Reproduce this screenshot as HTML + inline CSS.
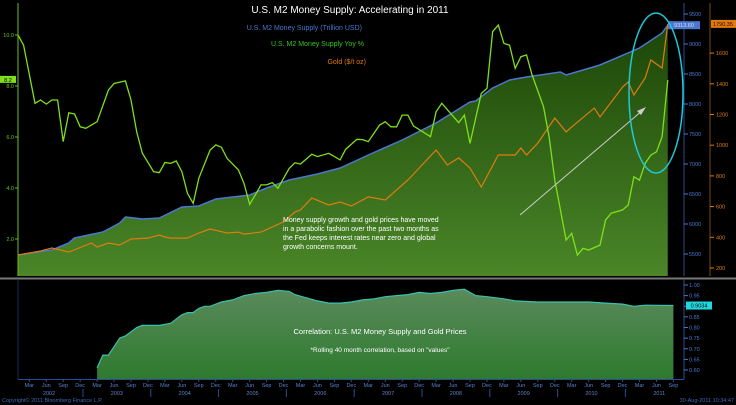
<!DOCTYPE html>
<html><head><meta charset="utf-8"><style>
html,body{margin:0;padding:0;background:#000;}
svg{display:block;font-family:"Liberation Sans",sans-serif;}
</style></head><body>
<svg id="c" width="736" height="405" viewBox="0 0 736 405">
<defs>
<linearGradient id="gTop" x1="0" y1="0" x2="0" y2="1"><stop offset="0" stop-color="#1c4608"/><stop offset="1" stop-color="#4a8628"/></linearGradient>
<linearGradient id="gBot" x1="0" y1="0" x2="0" y2="1"><stop offset="0" stop-color="#5a8a5c"/><stop offset="1" stop-color="#2e7a2e"/></linearGradient>
</defs>
<rect width="736" height="405" fill="#000"/>
<g id="topPanel"></g>
<g id="botPanel"></g>
<line x1="0" y1="278.5" x2="736" y2="278.5" stroke="#777" stroke-width="2"/>
<text x="350" y="13" fill="#fff" font-size="10" text-anchor="middle">U.S. M2 Money Supply: Accelerating in 2011</text>
<text x="362" y="30" fill="#4a78d0" font-size="7" text-anchor="end">U.S. M2 Money Supply (Trillion USD)</text>
<text x="364" y="46" fill="#2ec81a" font-size="7" text-anchor="end">U.S. M2 Money Supply Yoy %</text>
<text x="366" y="64" fill="#e07b10" font-size="7" text-anchor="end">Gold ($/t oz)</text>
<g fill="#fff" font-size="7">
<text x="283" y="222">Money supply growth and gold prices have moved</text>
<text x="283" y="231">in a parabolic fashion over the past two months as</text>
<text x="283" y="240">the Fed keeps interest rates near zero and global</text>
<text x="283" y="249">growth concerns mount.</text>
</g>
<line x1="520" y1="215" x2="643" y2="110" stroke="#ccc" stroke-width="1"/>
<polygon points="646,107 637,111 641,115" fill="#ccc"/>
<ellipse cx="656" cy="93" rx="27" ry="80" fill="none" stroke="#20c8d8" stroke-width="1.5"/>
<text x="380" y="334" fill="#fff" font-size="7.5" text-anchor="middle">Correlation: U.S. M2 Money Supply and Gold Prices</text>
<text x="380" y="352" fill="#fff" font-size="6.5" text-anchor="middle">*Rolling 40 month correlation, based on "values"</text>
<text x="2" y="402" fill="#3a6ab8" font-size="5.5">Copyright© 2011 Bloomberg Finance L.P.</text>
<text x="734" y="402" fill="#3a6ab8" font-size="5.5" text-anchor="end">30-Aug-2011 10:34:47</text>
</svg>
<script>
// ---- data ----
const m2Months = [0,6,9,10,15,18,19,22,25,29,32,35,38,41,44,48,53,57,62,68,74,80,81,84,87,90,96,97,103,110,114,115];
const m2Values = [5483,5567,5683,5767,5867,6017,6117,6083,6100,6283,6300,6417,6450,6483,6600,6733,6833,6933,7150,7400,7683,8033,8050,8267,8400,8450,8533,8483,8650,8933,9183,9313.6];
const yoyMonths = [0,1,3,4,5,6,7,8,9,10,11,12,14,16,17,19,20,21,22,24,25,26,27,28,29,30,31,32,34,35,36,37,39,40,41,42,43,44,45,46,48,49,50,52,53,55,57,58,60,61,62,64,65,66,67,68,69,70,73,74,75,78,79,80,82,83,84,85,86,87,88,89,90,91,93,94,95,97,98,99,100,101,103,104,105,107,108,109,110,111,112,113,114,115];
const yoyValues = [10.0,9.6,7.32,7.45,7.29,7.45,7.45,5.82,6.95,6.9,6.4,6.34,6.6,7.84,8.1,8.2,7.45,6.2,5.37,4.64,4.6,5.0,4.97,5.06,4.64,3.79,3.4,4.38,5.49,5.69,5.6,5.16,4.71,4.18,3.36,3.73,4.12,4.12,4.21,3.99,4.77,4.99,4.94,5.32,5.23,5.36,5.1,5.52,5.91,5.9,5.82,6.47,6.6,6.4,6.4,6.86,6.86,6.43,6.01,6.99,7.32,6.56,6.86,5.75,7.71,7.91,10.13,10.39,9.67,9.6,8.69,9.15,9.22,8.43,7.19,6.01,4.31,1.96,2.22,1.37,1.63,1.57,1.76,2.75,3.01,3.14,3.33,4.44,4.31,4.97,5.29,5.42,6.01,8.24];
const goldMonths = [0,4,6,9,13,14,16,18,20,23,25,26,27,30,32,34,37,39,40,43,45,47,49,50,52,55,57,59,62,65,69,74,76,78,80,82,85,88,89,90,92,95,97,98,102,103,107,108,109,111,112,114,115];
const goldValues = [285,311,330,304,363,337,363,350,389,395,415,402,395,395,428,454,428,434,421,434,467,500,565,578,656,610,630,604,663,643,773,969,871,917,851,728,936,936,982,936,1014,1177,1086,1119,1242,1184,1379,1412,1327,1438,1555,1503,1790.35];
const corrMonths = [14,15,16,17,18,19,20,21,22,25,27,29,30,31,32,33,34,36,38,40,42,44,46,48,49,51,53,55,57,59,61,63,65,67,69,71,73,75,77,79,81,83,86,88,92,97,101,104,107,109,111,116];
const corrValues = [0.61,0.67,0.67,0.71,0.75,0.76,0.78,0.80,0.81,0.81,0.82,0.86,0.87,0.87,0.89,0.90,0.90,0.92,0.93,0.95,0.96,0.965,0.975,0.97,0.955,0.94,0.925,0.915,0.915,0.92,0.93,0.935,0.945,0.95,0.955,0.965,0.96,0.965,0.975,0.98,0.95,0.945,0.935,0.925,0.92,0.92,0.92,0.915,0.91,0.90,0.905,0.9034];
const yoyTicks = [2,4,6,8,10];
const m2Ticks = [5500,6000,6500,7000,7500,8000,8500,9000,9500];
const goldTicks = [200,400,600,800,1000,1200,1400,1600];
const corrTicks = [0.60,0.65,0.70,0.75,0.80,0.85,0.90,0.95,1.00];
const monthLabels = ["Mar","Jun","Sep","Dec"];
const years = [2002,2003,2004,2005,2006,2007,2008,2009,2010,2011];

// ---- scales ----
const X = m => 18 + m * 5.65;
const yYoy = v => 35 + (10 - v) * 25.5;
const yM2 = v => 14 + (9500 - v) * 0.06;
const yGold = v => 268 - (v - 200) * 0.1535;
const yCorr = v => 285 + (1 - v) * 212.5;
const NS = "http://www.w3.org/2000/svg";
function mk(tag, attrs, parent, text){const e=document.createElementNS(NS,tag);for(const k in attrs)e.setAttribute(k,attrs[k]);if(text!==undefined)e.textContent=text;parent.appendChild(e);return e;}
const topG = document.getElementById('topPanel'), botG = document.getElementById('botPanel');
const pts = (ms, vs, fy) => ms.map((m,i)=>X(m).toFixed(1)+','+fy(vs[i]).toFixed(1)).join(' ');

// top panel fill
const lastM = m2Months[m2Months.length-1];
const fillEl = mk('polygon',{points: X(0)+',276 '+pts(m2Months,m2Values,yM2)+' '+X(lastM)+',276', fill:'url(#gTop)'}, topG);


const lm2 = mk('polyline',{points:pts(m2Months,m2Values,yM2),fill:'none',stroke:'#4a78d0','stroke-width':1.5},topG);


const lg = mk('polyline',{points:pts(goldMonths,goldValues,yGold),fill:'none',stroke:'#e07b10','stroke-width':1.2},topG);


const ly = mk('polyline',{points:pts(yoyMonths,yoyValues,yYoy),fill:'none',stroke:'#7ee01a','stroke-width':1.3},topG);



// left axis
const la = mk('line',{x1:18,y1:3,x2:18,y2:276,stroke:'#6ac01a','stroke-width':1},topG);


yoyTicks.forEach(t=>{
  mk('line',{x1:15,y1:yYoy(t),x2:18,y2:yYoy(t),stroke:'#6ac01a'},topG);
  const tx = mk('text',{x:14,y:yYoy(t)+2,fill:'#6ac01a','font-size':5.5,'text-anchor':'end'},topG,t.toFixed(1));
  
  
});
const yl = yoyValues[yoyValues.length-1];
const yb = mk('rect',{x:0,y:yYoy(yl)-4,width:16,height:7,fill:'#7ee01a'},topG);


mk('text',{x:8,y:yYoy(yl)+2,'font-size':5.5,'text-anchor':'middle',fill:'#000'},topG,yl.toFixed(1));

// m2 right axis
const ra = mk('line',{x1:684,y1:3,x2:684,y2:276,stroke:'#2a4a8a'},topG);


m2Ticks.forEach(t=>{
  mk('line',{x1:684,y1:yM2(t),x2:688,y2:yM2(t),stroke:'#4a78d0'},topG);
  const tx = mk('text',{x:689,y:yM2(t)+2,fill:'#4a78d0','font-size':5.5},topG,t);
  
  
});
const mlv = m2Values[m2Values.length-1];
const mb = mk('rect',{x:668,y:yM2(mlv)-4,width:32,height:8,fill:'#4a78d0'},topG);


mk('text',{x:684,y:yM2(mlv)+2,'font-size':5.5,'text-anchor':'middle',fill:'#dde'},topG,mlv.toFixed(2));

// gold right axis
const ga = mk('line',{x1:710,y1:3,x2:710,y2:276,stroke:'#7a4a10'},topG);


goldTicks.forEach(t=>{
  mk('line',{x1:710,y1:yGold(t),x2:714,y2:yGold(t),stroke:'#e07b10'},topG);
  const tx = mk('text',{x:716,y:yGold(t)+2,fill:'#e07b10','font-size':5.5},topG,t);
  
  
});
const glv = goldValues[goldValues.length-1];
const gb = mk('rect',{x:711,y:yGold(glv)-4,width:25,height:8,fill:'#e07b10'},topG);


mk('text',{x:723,y:yGold(glv)+2,'font-size':5.5,'text-anchor':'middle',fill:'#300'},topG,glv.toFixed(2));

// bottom panel
const clm = corrMonths[corrMonths.length-1];
const cf = mk('polygon',{points:X(corrMonths[0])+',379 '+pts(corrMonths,corrValues,yCorr)+' '+X(clm)+',379',fill:'url(#gBot)'},botG);


const cline = mk('polyline',{points:pts(corrMonths,corrValues,yCorr),fill:'none',stroke:'#3cc0b0','stroke-width':1.2},botG);


mk('line',{x1:18,y1:280,x2:18,y2:379,stroke:'#1a2a5a'},botG);
const xa = mk('line',{x1:18,y1:379.5,x2:684,y2:379.5,stroke:'#2a4a9a'},botG);


const ca = mk('line',{x1:684,y1:280,x2:684,y2:379,stroke:'#2a4a8a'},botG);


corrTicks.forEach(t=>{
  mk('line',{x1:684,y1:yCorr(t),x2:688,y2:yCorr(t),stroke:'#4a78d0'},botG);
  const tx = mk('text',{x:689,y:yCorr(t)+2,fill:'#4a78d0','font-size':5.5},botG,t.toFixed(2));
  
  
});
const cv = corrValues[corrValues.length-1];
const cb = mk('rect',{x:686,y:yCorr(cv)-4,width:26,height:8,fill:'#20d8e0'},botG);


mk('text',{x:699,y:yCorr(cv)+2,'font-size':5.5,'text-anchor':'middle',fill:'#000'},botG,cv.toFixed(4));

// time labels
years.forEach((yr,i)=>{
  const base = i*12;
  monthLabels.forEach((mlab,j)=>{
    const m = base + 2 + j*3;
    if (m > 116) return;
    mk('line',{x1:X(m),y1:379,x2:X(m),y2:382,stroke:'#2a4a9a'},botG);
    const tx = mk('text',{x:X(m),y:387,fill:'#5a80c8','font-size':5.5,'text-anchor':'middle'},botG,mlab);
    
    
  });
  const ty = mk('text',{x:X(base+5.5),y:395,fill:'#5a80c8','font-size':5.5,'text-anchor':'middle'},botG,yr);
  
  
  if (i>0) mk('line',{x1:X(base-0.5),y1:389,x2:X(base-0.5),y2:397,stroke:'#2a4a9a'},botG);
});
</script>
</body></html>
